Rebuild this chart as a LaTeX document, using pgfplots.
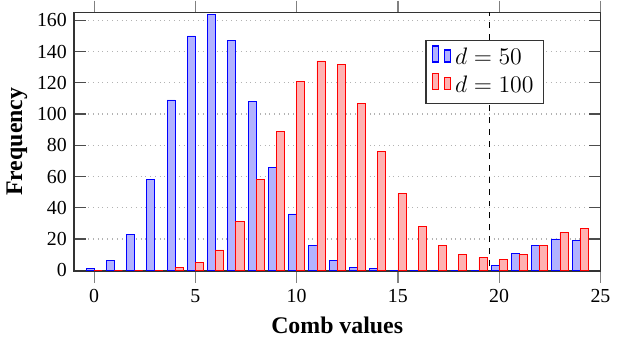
\documentclass[border=0pt]{standalone}
\usepackage{fontspec}
\setmainfont{Liberation Serif}
\usepackage{pgfplots}
\usepackage{pgfplotstable}
\pgfplotsset{compat=1.18}
\pgfplotstableread{
x a b
0 1 0
1 6 0
2 23 0
3 58 0
4 109 1.5
5 150 5
6 164 13
7 147 31
8 108 58
9 66 89
10 36 121
11 16 134
12 6 132
13 2 107
14 1 76
15 0 49
16 0 28
17 0 16
18 0 10
19 0 8
20 3 7
21 11 10
22 16 16
23 20 24
24 19 27
}\datatable
\begin{document}
\begin{tikzpicture}
\begin{axis}[
  scale only axis,
  width=265pt, height=130pt,
  xmin=-1, xmax=25, ymin=-0.4, ymax=165,
  xtick={0,5,10,15,20,25},
  ytick={0,20,40,60,80,100,120,140,160},
  x tick style={gray, line width=0.6pt},
  y tick style={black!70, line width=0.6pt},
  xtick align=outside, ytick align=inside,
  major tick length=6pt,
  ymajorgrids,
  grid style={dotted, gray!60, line width=0.6pt},
  axis line style={black!80, line width=0.8pt},
  /pgf/number format/assume math mode=true,
  ticklabel style={font=\normalsize},
  xlabel={\large\bfseries Comb values},
  ylabel={\large\bfseries Frequency},
  ylabel style={yshift=-2pt},
  legend style={at={(0.893,0.895)}, anchor=north east, draw=black!80, line width=0.6pt, font=\large, legend cell align=left},
  bar width=0.4,
]
\addplot[ybar, ybar legend, bar shift=-0.2, draw=blue, fill=blue!30] table[x=x, y=a] {\datatable};
\addlegendentry{$d=50$}
\addplot[ybar, ybar legend, bar shift=0.2, draw=red, fill=red!30] table[x=x, y=b] {\datatable};
\addlegendentry{$d=100$}
\addplot[black, dashed, line width=0.5pt, forget plot] coordinates {(19.5,-5) (19.5,200)};
\end{axis}
\end{tikzpicture}
\end{document}
